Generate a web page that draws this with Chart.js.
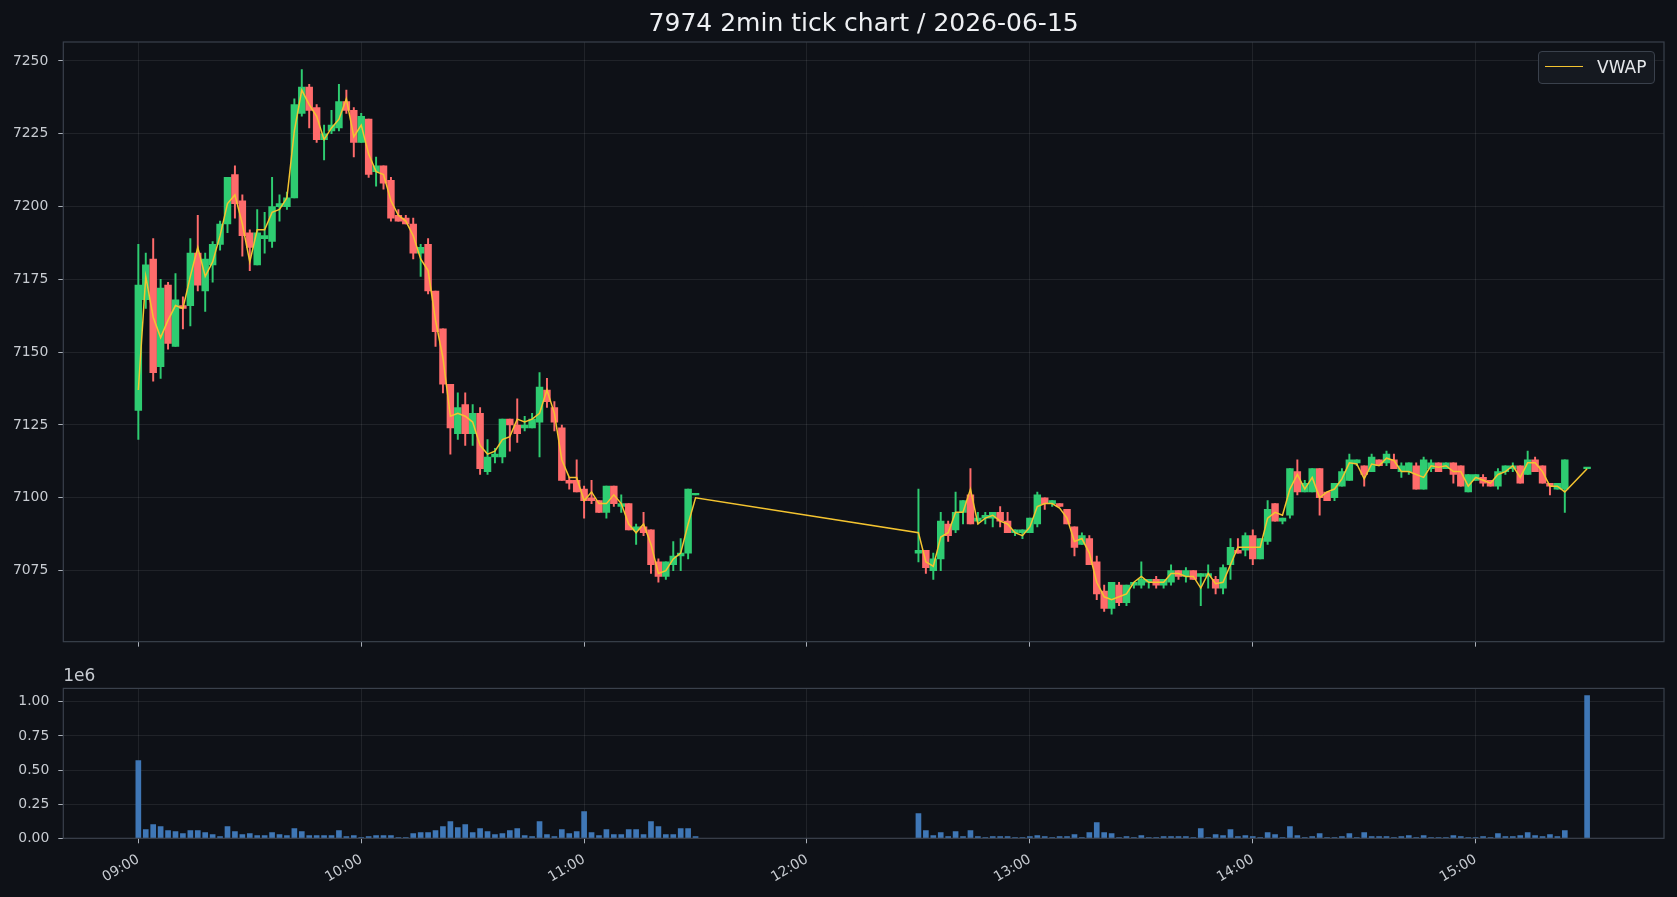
<!DOCTYPE html>
<html>
<head>
<meta charset="utf-8">
<script src="https://cdn.jsdelivr.net/npm/chart.js@4.4.1/dist/chart.umd.min.js"></script>
<style>
  html, body { margin: 0; padding: 0; background: #0e1117; }
  body { width: 1677px; height: 897px; position: relative; overflow: hidden; font-family: 'DejaVu Sans', sans-serif; }
  canvas { position: absolute; left: 0; }
  #priceChart { top: 0; }
  #volChart { top: 660px; }
  .legend { position: absolute; left: 1538px; top: 51px; width: 117px; height: 33px; box-sizing: border-box;
            border: 1px solid #3a414c; border-radius: 4px; background: rgba(22, 27, 34, 0.85); }
  .legend .swatch { position: absolute; left: 6px; top: 14px; width: 38px; border-top: 1.5px solid #f4c430; }
  .legend .label { position: absolute; left: 58px; top: 5px; font-size: 17px; line-height: 20px; color: #e6e8eb; }
</style>
</head>
<body>
<canvas id="priceChart" width="1677" height="660"></canvas>
<canvas id="volChart" width="1677" height="237"></canvas>
<div class="legend"><span class="swatch"></span><span class="label">VWAP</span></div>
<script>
// Barras de 2 minutos (manhã 09:00-11:30, tarde 12:30-15:30)
const times = [
  '09:00','09:02','09:04','09:06','09:08','09:10','09:12','09:14','09:16','09:18',
  '09:20','09:22','09:24','09:26','09:28','09:30','09:32','09:34','09:36','09:38',
  '09:40','09:42','09:44','09:46','09:48','09:50','09:52','09:54','09:56','09:58',
  '10:00','10:02','10:04','10:06','10:08','10:10','10:12','10:14','10:16','10:18',
  '10:20','10:22','10:24','10:26','10:28','10:30','10:32','10:34','10:36','10:38',
  '10:40','10:42','10:44','10:46','10:48','10:50','10:52','10:54','10:56','10:58',
  '11:00','11:02','11:04','11:06','11:08','11:10','11:12','11:14','11:16','11:18',
  '11:20','11:22','11:24','11:26','11:28','11:30',
  '12:30','12:32','12:34','12:36','12:38','12:40','12:42','12:44','12:46','12:48',
  '12:50','12:52','12:54','12:56','12:58','13:00','13:02','13:04','13:06','13:08',
  '13:10','13:12','13:14','13:16','13:18','13:20','13:22','13:24','13:26','13:28',
  '13:30','13:32','13:34','13:36','13:38','13:40','13:42','13:44','13:46','13:48',
  '13:50','13:52','13:54','13:56','13:58','14:00','14:02','14:04','14:06','14:08',
  '14:10','14:12','14:14','14:16','14:18','14:20','14:22','14:24','14:26','14:28',
  '14:30','14:32','14:34','14:36','14:38','14:40','14:42','14:44','14:46','14:48',
  '14:50','14:52','14:54','14:56','14:58','15:00','15:02','15:04','15:06','15:08',
  '15:10','15:12','15:14','15:16','15:18','15:20','15:22','15:24','15:30'
];
const opens = [
  7130,7168,7182,7145,7173,7152,7166,7166,7184,7171,
  7180,7187,7194,7211,7202,7191,7180,7189,7188,7200,
  7200,7203,7232,7241,7234,7223,7226,7227,7236,7233,
  7222,7230,7212,7214,7209,7197,7196,7194,7184,7187,
  7171,7158,7139,7122,7132,7122,7129,7109,7114,7114,
  7127,7125,7124,7124,7126,7137,7131,7124,7106,7106,
  7103,7100,7099,7095,7104,7097,7098,7089,7090,7089,
  7078,7073,7077,7080,7081,7101,
  7081,7082,7075,7079,7091,7089,7095,7101,7092,7093,
  7093,7095,7092,7088,7088,7088,7091,7100,7098,7098,
  7096,7090,7084,7086,7078,7068,7062,7070,7064,7070,
  7070,7071,7072,7070,7071,7075,7073,7075,7073,7073,
  7072,7069,7077,7082,7082,7087,7079,7085,7098,7092,
  7094,7109,7102,7102,7110,7102,7100,7104,7106,7112,
  7111,7109,7113,7112,7113,7109,7109,7111,7103,7110,
  7112,7110,7112,7111,7102,7106,7107,7106,7104,7109,
  7110,7111,7108,7113,7111,7105,7103,7103,7110
];
const highs = [
  7187,7184,7189,7175,7174,7177,7169,7189,7197,7184,
  7188,7195,7210,7214,7204,7192,7199,7198,7210,7204,
  7205,7237,7247,7242,7235,7228,7233,7242,7240,7234,
  7232,7230,7217,7214,7210,7199,7197,7196,7187,7189,
  7171,7158,7139,7136,7136,7132,7131,7120,7117,7127,
  7127,7134,7128,7129,7143,7141,7133,7125,7107,7113,
  7104,7106,7099,7104,7104,7101,7098,7091,7095,7089,
  7079,7078,7085,7086,7103,7101,
  7103,7082,7081,7095,7092,7102,7099,7110,7095,7095,
  7095,7097,7095,7089,7089,7093,7102,7100,7099,7098,
  7096,7090,7088,7087,7080,7070,7071,7071,7070,7071,
  7078,7072,7073,7072,7077,7075,7076,7075,7074,7077,
  7073,7077,7086,7086,7088,7089,7086,7099,7098,7093,
  7110,7113,7106,7110,7110,7102,7105,7110,7115,7113,
  7111,7115,7113,7116,7115,7112,7112,7112,7114,7113,
  7112,7112,7112,7111,7108,7108,7108,7106,7110,7111,
  7112,7111,7116,7114,7111,7105,7105,7113,7110
];
const lows = [
  7120,7165,7140,7141,7151,7152,7158,7159,7171,7164,
  7174,7185,7191,7196,7183,7178,7180,7184,7186,7195,
  7199,7203,7231,7227,7222,7216,7225,7226,7232,7217,
  7222,7210,7207,7206,7195,7195,7194,7182,7176,7170,
  7152,7136,7115,7120,7118,7118,7108,7108,7112,7112,
  7116,7119,7123,7124,7114,7131,7123,7106,7103,7102,
  7093,7098,7095,7093,7097,7095,7089,7084,7087,7074,
  7071,7072,7075,7075,7079,7101,
  7078,7074,7072,7075,7085,7088,7091,7091,7091,7091,
  7090,7090,7088,7087,7086,7088,7090,7096,7097,7097,
  7091,7080,7084,7077,7065,7061,7060,7063,7063,7069,
  7069,7069,7069,7069,7070,7072,7071,7072,7063,7069,
  7067,7067,7072,7081,7080,7077,7079,7084,7092,7091,
  7093,7101,7102,7102,7094,7099,7099,7104,7106,7111,
  7104,7109,7111,7111,7110,7107,7108,7103,7103,7109,
  7109,7110,7105,7104,7102,7106,7104,7104,7103,7108,
  7109,7105,7108,7109,7105,7101,7103,7095,7110
];
const closes = [
  7173,7180,7143,7172,7153,7168,7165,7184,7173,7182,
  7187,7194,7210,7201,7190,7186,7191,7190,7200,7201,
  7203,7235,7241,7233,7223,7225,7228,7236,7233,7222,
  7231,7211,7214,7208,7196,7195,7194,7184,7186,7171,
  7157,7139,7124,7131,7122,7129,7110,7114,7115,7127,
  7125,7122,7125,7127,7138,7133,7126,7106,7105,7102,
  7099,7099,7095,7104,7098,7098,7089,7090,7088,7077,
  7073,7078,7080,7081,7103,7101,
  7082,7076,7079,7092,7087,7095,7099,7091,7093,7094,
  7095,7092,7088,7089,7089,7093,7101,7098,7099,7097,
  7091,7083,7087,7077,7067,7062,7071,7064,7070,7071,
  7072,7072,7070,7072,7075,7073,7075,7072,7074,7074,
  7069,7076,7083,7081,7087,7079,7086,7096,7092,7093,
  7110,7102,7105,7110,7100,7099,7105,7109,7113,7113,
  7108,7114,7111,7115,7110,7111,7112,7103,7113,7112,
  7109,7112,7108,7104,7108,7108,7105,7104,7109,7111,
  7111,7105,7113,7109,7105,7104,7105,7113,7110
];
const vwap = [
  7137,7176,7162,7155,7161,7166,7165,7176,7186,7176,
  7181,7190,7201,7204,7194,7181,7192,7192,7198,7199,
  7203,7226,7240,7235,7231,7223,7227,7230,7237,7224,
  7228,7218,7212,7211,7202,7197,7195,7190,7182,7178,
  7161,7148,7128,7129,7128,7126,7118,7115,7116,7120,
  7121,7127,7126,7127,7129,7137,7129,7113,7107,7107,
  7099,7102,7098,7098,7101,7098,7091,7088,7091,7084,
  7074,7075,7079,7081,7091,7100,
  7088,7078,7076.5,7086.5,7088,7095,7095,7103,7091,7093,
  7094,7092,7091,7088,7087,7090,7097,7098,7098,7096.5,
  7093,7085,7086,7081,7071,7066,7065,7066,7067,7071,
  7073,7071,7071,7071,7074,7074,7073,7073,7069,7074,
  7070.5,7071,7077,7083,7083,7083,7083,7093,7095,7094,
  7103,7108,7103,7107,7100,7102,7103,7106.5,7112,7111.6,
  7106.5,7111.6,7111,7113.6,7112.8,7109,7109,7108,7107,7111,
  7110.5,7111,7109,7109,7104,7107,7106,7105,7108,7109,
  7111,7107,7112,7112,7109,7104,7104,7102,7110
];
const volume = [
  570000,64000,100000,86000,56000,49000,34000,56000,56000,42000,
  27000,12000,86000,49000,27000,34000,20000,20000,42000,27000,
  20000,71000,49000,20000,20000,20000,20000,56000,12000,20000,
  5000,12000,20000,20000,20000,5000,5000,34000,42000,42000,
  56000,86000,122000,78000,100000,42000,71000,49000,27000,34000,
  56000,71000,20000,12000,122000,27000,12000,64000,34000,49000,
  196000,42000,20000,64000,27000,27000,64000,64000,27000,122000,
  86000,27000,27000,71000,71000,12000,
  181000,56000,20000,42000,12000,49000,12000,56000,12000,5000,
  12000,12000,12000,5000,5000,12000,20000,12000,5000,12000,
  12000,27000,5000,42000,115000,42000,34000,5000,12000,5000,
  20000,5000,5000,12000,12000,12000,12000,5000,71000,5000,
  27000,20000,64000,12000,20000,12000,5000,42000,27000,5000,
  86000,20000,5000,12000,34000,5000,5000,12000,34000,5000,
  42000,12000,12000,12000,5000,12000,20000,5000,20000,5000,
  5000,5000,20000,12000,5000,5000,12000,5000,34000,12000,
  12000,20000,42000,20000,12000,27000,12000,56000,1046000
];
const hourTicks = ['09:00','10:00','11:00','12:00','13:00','14:00','15:00'];
const priceTicks = [7075, 7100, 7125, 7150, 7175, 7200, 7225, 7250];
const volTicks = [0, 250000, 500000, 750000, 1000000];

const FONT = 'DejaVu Sans';
const GREEN = '#2ecc71', RED = '#ff6b6b', YELLOW = '#f4c430', BLUE = '#3f77b6';
const GRID = 'rgba(255,255,255,0.08)', TICK = '#aab0b9', LABEL = '#c8ccd2', SPINE = '#3a414c';

// minutos a partir das 09:00
const toMinutes = t => { const [h, m] = t.split(':').map(Number); return h * 60 + m - 540; };
const xs = times.map(toMinutes);
const colors = xs.map((_, i) => closes[i] >= opens[i] ? GREEN : RED);

// moldura completa como no matplotlib
const frame = {
    id: 'frame',
    afterDatasetsDraw(chart) {
        const { ctx, chartArea: a } = chart;
        ctx.save();
        ctx.strokeStyle = SPINE;
        ctx.lineWidth = 1.2;
        ctx.strokeRect(a.left, a.top, a.width, a.height);
        ctx.restore();
    }
};

function timeAxis(showLabels, height) {
    return {
        type: 'linear', min: -20.2, max: 410.7, offset: false,
        afterBuildTicks: s => { s.ticks = hourTicks.map(t => ({ value: toMinutes(t) })); },
        afterFit: s => { s.height = height; },
        grid: { offset: false, color: GRID, tickColor: TICK, tickLength: 5, lineWidth: 1 },
        border: { display: false },
        ticks: {
            display: showLabels, autoSkip: false, color: LABEL, padding: 8,
            font: { family: FONT, size: 13.9 }, minRotation: 30, maxRotation: 30,
            callback: (v, i) => hourTicks[i]
        }
    };
}

// Gráfico de preços (candles + VWAP)
new Chart(document.getElementById('priceChart'), {
    type: 'bar',
    data: {
        datasets: [{
            type: 'line',
            label: 'VWAP',
            data: xs.map((x, i) => ({ x, y: vwap[i] })),
            borderColor: YELLOW,
            borderWidth: 1.5,
            pointRadius: 0,
            tension: 0,
            order: 0
        }, {
            label: 'corpo',
            data: xs.map((x, i) => ({ x, y: [opens[i], closes[i]] })),
            backgroundColor: colors,
            barThickness: 6.8,
            minBarLength: 1.5,
            grouped: false,
            order: 1
        }, {
            label: 'pavio',
            data: xs.map((x, i) => ({ x, y: [lows[i], highs[i]] })),
            backgroundColor: colors,
            barThickness: 1.3,
            grouped: false,
            order: 2
        }]
    },
    options: {
        responsive: false,
        animation: false,
        devicePixelRatio: 1,
        layout: { padding: { left: 0, right: 13, top: 0, bottom: 0 } },
        plugins: {
            legend: { display: false },
            tooltip: { enabled: false },
            title: {
                display: true, fullSize: false,
                text: '7974 2min tick chart / 2026-06-15',
                color: '#eef0f3',
                font: { family: FONT, size: 25, weight: 'normal' },
                padding: { top: 9, bottom: 3 }
            }
        },
        scales: {
            x: timeAxis(false, 16.7),
            y: {
                min: 7050.6, max: 7256.5,
                afterBuildTicks: s => { s.ticks = priceTicks.map(v => ({ value: v })); },
                afterFit: s => { s.width = 63.3; },
                grid: { color: GRID, tickColor: TICK, tickLength: 5 },
                border: { display: false },
                ticks: { color: LABEL, padding: 10, font: { family: FONT, size: 13.9 }, callback: v => String(v) }
            }
        }
    },
    plugins: [frame]
});

// Gráfico de volume
new Chart(document.getElementById('volChart'), {
    type: 'bar',
    data: {
        datasets: [{
            label: 'Volume',
            data: xs.map((x, i) => ({ x, y: volume[i] })),
            backgroundColor: BLUE,
            barThickness: 5,
            grouped: false
        }]
    },
    options: {
        responsive: false,
        animation: false,
        devicePixelRatio: 1,
        layout: { padding: { left: 0, right: 13, top: 0, bottom: 0 } },
        plugins: {
            legend: { display: false },
            tooltip: { enabled: false },
            title: {
                display: true, fullSize: false, align: 'start',
                text: '1e6',
                color: LABEL,
                font: { family: FONT, size: 17, weight: 'normal' },
                padding: { top: 6, bottom: 2 }
            }
        },
        scales: {
            x: timeAxis(true, 58.7),
            y: {
                min: 0, max: 1098000,
                afterBuildTicks: s => { s.ticks = volTicks.map(v => ({ value: v })); },
                afterFit: s => { s.width = 63.3; },
                grid: { color: GRID, tickColor: TICK, tickLength: 5 },
                border: { display: false },
                ticks: { color: LABEL, padding: 9, font: { family: FONT, size: 13.9 }, callback: v => (v / 1e6).toFixed(2) }
            }
        }
    },
    plugins: [frame]
});
</script>
</body>
</html>
